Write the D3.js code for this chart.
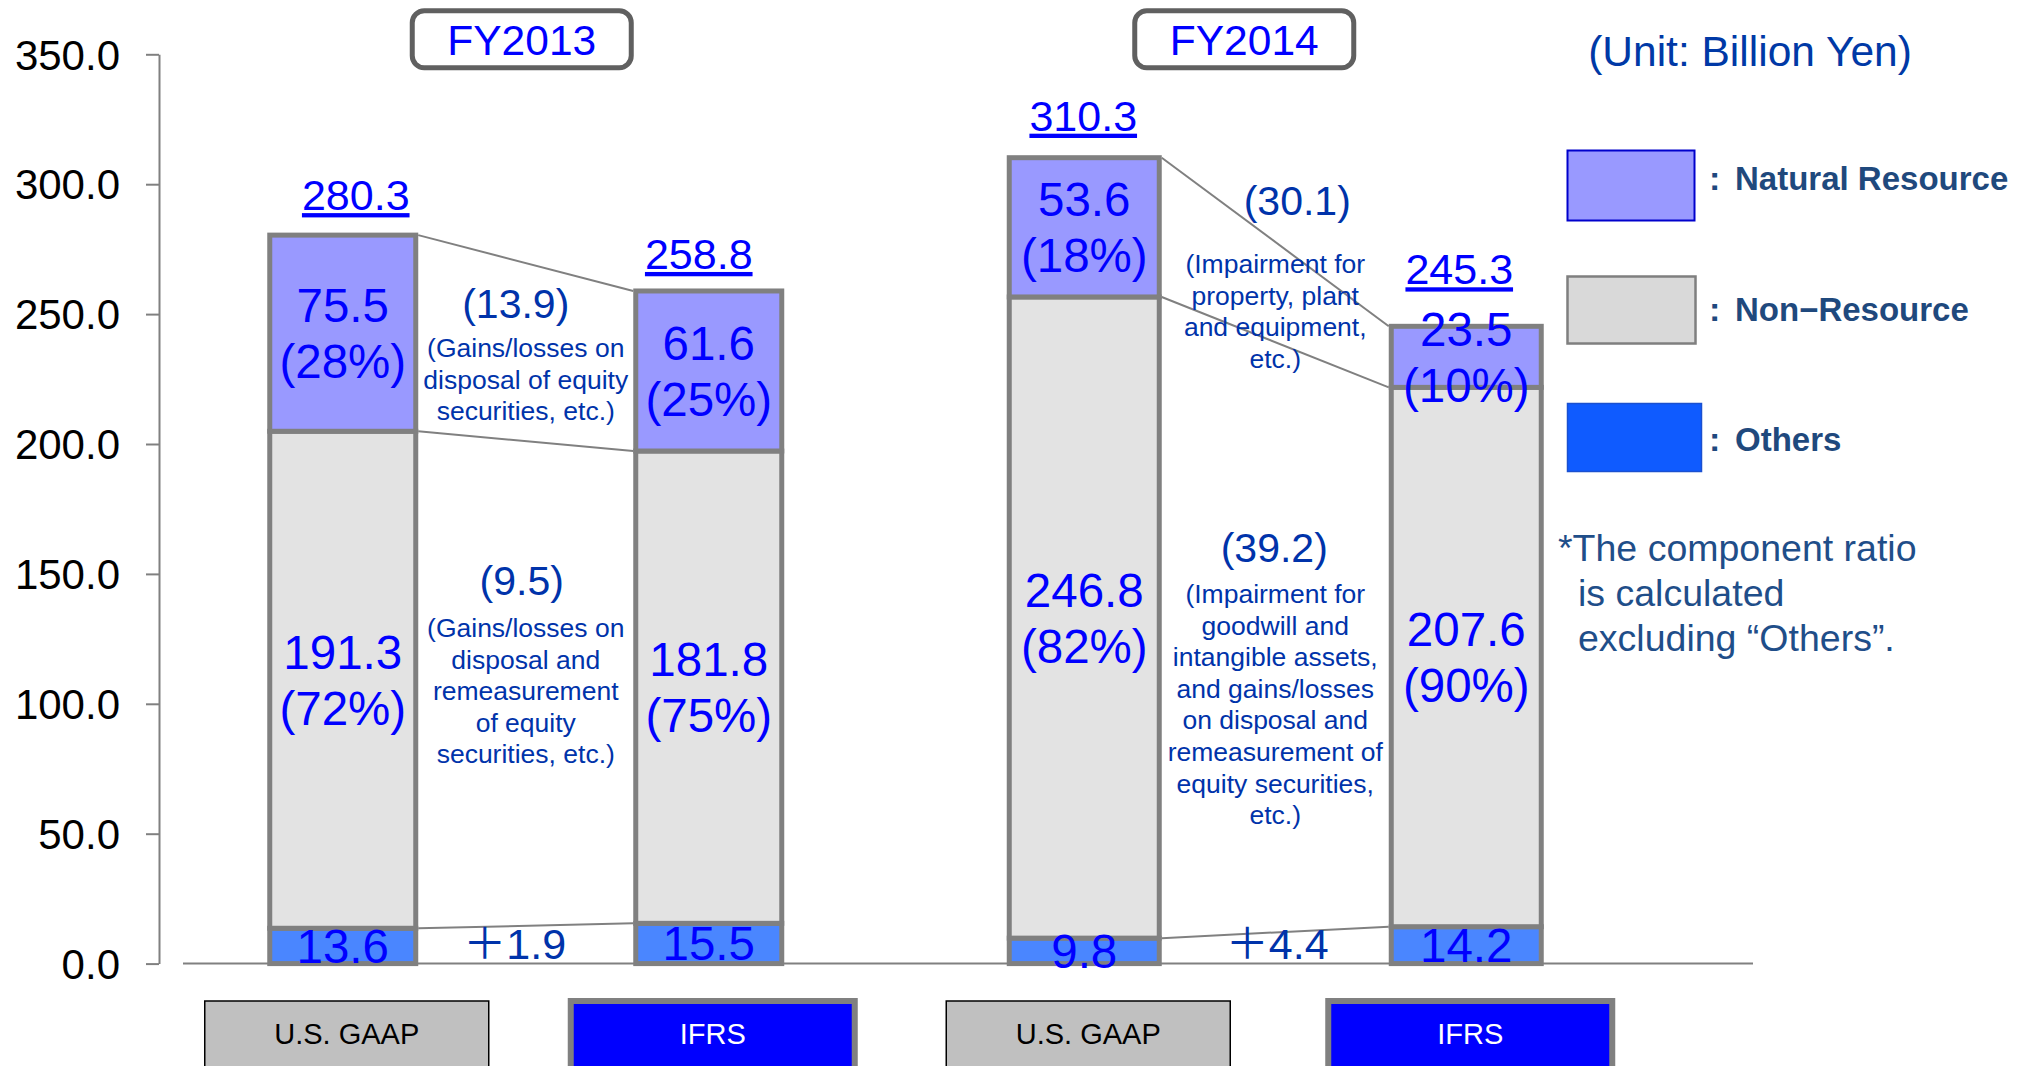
<!DOCTYPE html>
<html>
<head>
<meta charset="utf-8">
<script src="https://cdn.jsdelivr.net/npm/d3@7"></script>
<style>
  body { margin: 0; background: #fff; }
  svg { display: block; font-family: "Liberation Sans", Arial, "Noto Sans CJK JP", sans-serif; }
</style>
</head>
<body>
<div id="chart"></div>
<script>
// data below

var years = ["FY2013", "FY2014"],
    standards = ["U.S. GAAP", "IFRS"];

// one value per bar: FY2013 GAAP, FY2013 IFRS, FY2014 GAAP, FY2014 IFRS
var others = [13.6, 15.5, 9.8, 14.2],
    nonResource = [191.3, 181.8, 246.8, 207.6],
    naturalResource = [75.5, 61.6, 53.6, 23.5],
    totals = [280.3, 258.8, 310.3, 245.3];

var yTicks = [0, 50, 100, 150, 200, 250, 300, 350];

var naturalNotes = [
    ["(Gains/losses on", "disposal of equity", "securities, etc.)"],
    ["(Impairment for", "property, plant", "and equipment,", "etc.)"]
];
var nonResourceNotes = [
    ["(Gains/losses on", "disposal and", "remeasurement", "of equity", "securities, etc.)"],
    ["(Impairment for", "goodwill and", "intangible assets,", "and gains/losses", "on disposal and",
     "remeasurement of", "equity securities,", "etc.)"]
];

var legendLabels = ["Natural Resource", "Non\u2212Resource", "Others"];
var unitLabel = "(Unit: Billion Yen)";
var footnote = ["*The component ratio", "is calculated", "excluding \u201cOthers\u201d."];

// rest of logic below

var keys = ["others", "nonResource", "natural"];
var fills = { natural: "#9999FF", nonResource: "#E3E3E3", others: "#4A86FF" };

var rows = totals.map(function(t, i) {
    return {
        year: years[Math.floor(i / 2)],
        std: standards[i % 2],
        others: others[i],
        nonResource: nonResource[i],
        natural: naturalResource[i],
        total: t
    };
});

var width = 2029, height = 1066;

var svg = d3.select("#chart")
    .append("svg")
    .attr("width", width)
    .attr("height", height);

var y = d3.scaleLinear()
    .domain([0, 350])
    .range([963.6, 54.3]);

var xYear = d3.scaleBand()
    .domain(years)
    .range([151, 1650]);

// the two bars of a year sit a little further apart in FY2014
var innerHalf = [183, 191];
var xStd = years.map(function(yr, i) {
    return d3.scalePoint().domain(standards).range([-innerHalf[i], innerHalf[i]]);
});

var barW = [146, 150];

function yi(d) { return years.indexOf(d.year); }
function bw(d) { return barW[yi(d)]; }
function groupMid(yr) { return xYear(yr) + xYear.bandwidth() / 2; }
function cx(d) { return groupMid(d.year) + xStd[yi(d)](d.std); }

// y axis
var yAxis = d3.axisLeft(y)
    .tickValues(yTicks)
    .tickSize(13)
    .tickSizeOuter(0)
    .tickPadding(26)
    .tickFormat(d3.format(".1f"));

var gY = svg.append("g")
    .attr("transform", "translate(159,0)")
    .call(yAxis);
gY.select(".domain").attr("stroke", "#808080").attr("stroke-width", 2);
gY.selectAll(".tick line").attr("stroke", "#808080").attr("stroke-width", 2);
gY.selectAll(".tick text")
    .attr("fill", "#000")
    .attr("dy", "0.35em")
    .style("font-size", "42px")
    .style("font-family", "'Liberation Sans', Arial, sans-serif");

// baseline
svg.append("line")
    .attr("x1", 183).attr("x2", 1753)
    .attr("y1", y(0)).attr("y2", y(0))
    .attr("stroke", "#808080")
    .attr("stroke-width", 2);

var stack = d3.stack().keys(keys)(rows);

// connector lines between GAAP and IFRS bars
years.forEach(function(yr) {
    var gi = rows.findIndex(function(r) { return r.year === yr && r.std === standards[0]; }),
        ii = gi + 1;
    var levels = [stack[0][gi][1], stack[1][gi][1], stack[2][gi][1]],
        levels2 = [stack[0][ii][1], stack[1][ii][1], stack[2][ii][1]];
    levels.forEach(function(v, k) {
        svg.append("line")
            .attr("x1", cx(rows[gi]) + bw(rows[gi]) / 2 + 2.5)
            .attr("x2", cx(rows[ii]) - bw(rows[ii]) / 2 - 2.5)
            .attr("y1", y(v))
            .attr("y2", y(levels2[k]))
            .attr("stroke", "#808080")
            .attr("stroke-width", 2);
    });
});

// stacked bars
var layers = svg.append("g")
    .selectAll("g")
    .data(stack)
    .enter()
    .append("g")
    .attr("fill", function(d) { return fills[d.key]; });

layers.selectAll("rect")
    .data(function(d) { return d; })
    .enter()
    .append("rect")
    .attr("x", function(d) { return cx(d.data) - bw(d.data) / 2; })
    .attr("y", function(d) { return y(d[1]); })
    .attr("width", function(d) { return bw(d.data); })
    .attr("height", function(d) { return y(d[0]) - y(d[1]); })
    .attr("stroke", "#808080")
    .attr("stroke-width", 5);

// segment labels
var segFont = 47.5, segLine = 56;
stack.forEach(function(layer) {
    layer.forEach(function(d) {
        var r = d.data,
            mid = (y(d[0]) + y(d[1])) / 2,
            val = r[layer.key].toFixed(1);
        var t = svg.append("text")
            .attr("text-anchor", "middle")
            .attr("fill", "#0000FF")
            .style("font-size", segFont + "px");
        if (layer.key === "others") {
            t.attr("x", cx(r)).attr("y", mid + 0.358 * segFont).text(val);
        } else {
            var pct = Math.round(r[layer.key] / (r.natural + r.nonResource) * 100);
            t.append("tspan").attr("x", cx(r)).attr("y", mid + 0.358 * segFont - segLine / 2).text(val);
            t.append("tspan").attr("x", cx(r)).attr("y", mid + 0.358 * segFont + segLine / 2).text("(" + pct + "%)");
        }
    });
});

// totals above bars (hand-placed nudges, as on the slide)
var totalDx = [13, -10, -1, -7],
    totalLift = [25, 22, 27, 42];
svg.append("g")
    .selectAll("text")
    .data(rows)
    .enter()
    .append("text")
    .attr("x", function(d, i) { return cx(d) + totalDx[i]; })
    .attr("y", function(d, i) { return y(d.natural + d.nonResource + d.others) - totalLift[i]; })
    .attr("text-anchor", "middle")
    .attr("fill", "#0000FF")
    .style("font-size", "43px")
    .style("text-decoration", "underline")
    .text(function(d) { return d.total.toFixed(1); });

// difference notes between bars
var noteColor = "#0033AA";
var noteLayout = {
    natural:     { at: [248.5, 288.1], gap: [39, 58], dx: [-10, 22] },
    nonResource: { at: [141.9, 154.6], gap: [42, 41], dx: [-4, -1] },
    others:      { at: [1.8, 1.8],     gap: [0, 0],   dx: [-11, 2] }
};
var noteLines = { natural: naturalNotes, nonResource: nonResourceNotes, others: [[], []] };

function fmtDiff(v) {
    return v < 0 ? "(" + (-v).toFixed(1) + ")" : "\uff0b" + v.toFixed(1);
}

years.forEach(function(yr, j) {
    var g = rows[j * 2], f = rows[j * 2 + 1],
        xm = (cx(g) + bw(g) / 2 + cx(f) - bw(f) / 2) / 2;
    keys.forEach(function(k) {
        var lay = noteLayout[k],
            base = y(lay.at[j]);
        svg.append("text")
            .attr("x", xm + lay.dx[j])
            .attr("y", base)
            .attr("text-anchor", "middle")
            .attr("fill", noteColor)
            .style("font-size", k === "others" ? "43px" : "41px")
            .text(fmtDiff(f[k] - g[k]));
        var t = svg.append("text")
            .attr("text-anchor", "middle")
            .attr("fill", noteColor)
            .style("font-size", "26.5px");
        noteLines[k][j].forEach(function(s, n) {
            t.append("tspan")
                .attr("x", xm)
                .attr("y", base + lay.gap[j] + n * 31.6)
                .text(s);
        });
    });
});

// accounting standard boxes under bars
var cats = svg.append("g")
    .selectAll("g")
    .data(rows)
    .enter()
    .append("g");

cats.append("rect")
    .attr("x", function(d) { return cx(d) + 4 - 142; })
    .attr("y", 1001)
    .attr("width", 284)
    .attr("height", 90)
    .attr("fill", function(d) { return d.std === "IFRS" ? "#0000FF" : "#C0C0C0"; })
    .attr("stroke", function(d) { return d.std === "IFRS" ? "#808080" : "#000"; })
    .attr("stroke-width", function(d) { return d.std === "IFRS" ? 6 : 1.5; });

cats.append("text")
    .attr("x", function(d) { return cx(d) + 4; })
    .attr("y", 1044)
    .attr("text-anchor", "middle")
    .attr("fill", function(d) { return d.std === "IFRS" ? "#fff" : "#000"; })
    .style("font-size", "29px")
    .text(function(d) { return d.std; });

// year header boxes
var headShift = [-4, -31];
years.forEach(function(yr, i) {
    var hx = groupMid(yr) + headShift[i];
    svg.append("rect")
        .attr("x", hx - 109.5)
        .attr("y", 10.8)
        .attr("width", 219)
        .attr("height", 57)
        .attr("rx", 12)
        .attr("fill", "#fff")
        .attr("stroke", "#606060")
        .attr("stroke-width", 5);
    svg.append("text")
        .attr("x", hx)
        .attr("y", 55)
        .attr("text-anchor", "middle")
        .attr("fill", "#0000FF")
        .style("font-size", "42.5px")
        .text(yr);
});

// unit
svg.append("text")
    .attr("x", 1750)
    .attr("y", 66)
    .attr("text-anchor", "middle")
    .attr("fill", "#0039A6")
    .style("font-size", "42.5px")
    .text(unitLabel);

// legend
var legendBoxes = [
    { y: 150.5, w: 127, h: 70, fill: "#9999FF", stroke: "#0000CC", sw: 2, ty: 190 },
    { y: 276.5, w: 128, h: 67, fill: "#D9D9D9", stroke: "#7F7F7F", sw: 2.5, ty: 321 },
    { y: 403.5, w: 134, h: 68, fill: "#0F5BFF", stroke: "#1A50D0", sw: 1.5, ty: 451 }
];
legendBoxes.forEach(function(b, i) {
    svg.append("rect")
        .attr("x", 1567.5)
        .attr("y", b.y)
        .attr("width", b.w)
        .attr("height", b.h)
        .attr("fill", b.fill)
        .attr("stroke", b.stroke)
        .attr("stroke-width", b.sw);
    svg.append("text")
        .attr("x", 1709)
        .attr("y", b.ty)
        .attr("fill", "#1F497D")
        .style("font-size", "34px")
        .style("font-weight", "bold")
        .text(":");
    svg.append("text")
        .attr("x", 1735)
        .attr("y", b.ty)
        .attr("fill", "#1F497D")
        .style("font-size", "33px")
        .style("font-weight", "bold")
        .text(legendLabels[i]);
});

// footnote
svg.append("g")
    .selectAll("text")
    .data(footnote)
    .enter()
    .append("text")
    .attr("x", function(d, i) { return i === 0 ? 1558 : 1578; })
    .attr("y", function(d, i) { return 561 + i * 45; })
    .attr("fill", "#1F4E89")
    .style("font-size", "37.5px")
    .text(function(d) { return d; });
</script>
</body>
</html>
